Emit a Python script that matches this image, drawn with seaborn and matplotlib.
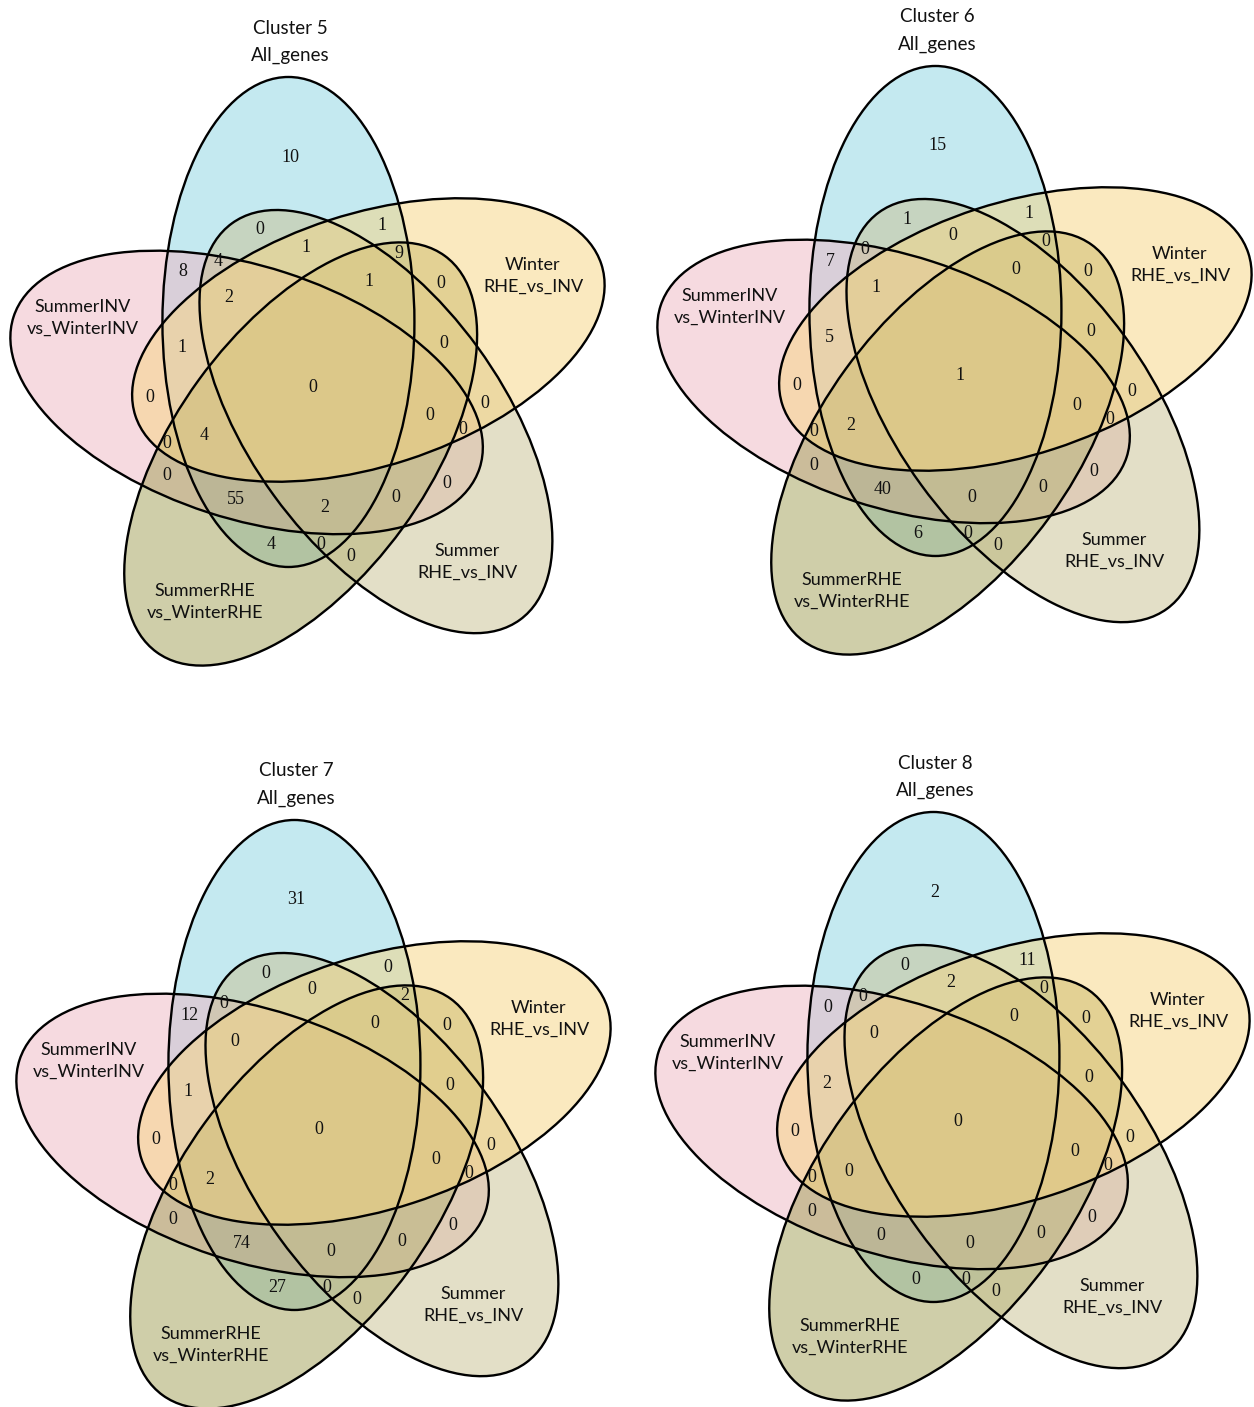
import numpy as np
import pandas as pd
import matplotlib
matplotlib.use("Agg")
import matplotlib.pyplot as plt
from matplotlib.patches import Ellipse
import seaborn as sns

# ---- data -------------------------------------------------------------
clusters = ["Cluster 5", "Cluster 6", "Cluster 7", "Cluster 8"]

# set keys: G = All_genes, W = Winter RHE_vs_INV, S = Summer RHE_vs_INV,
#           R = SummerRHE vs_WinterRHE, I = SummerINV vs_WinterINV
set_keys = ["G", "W", "S", "R", "I"]
set_labels = {
    "G": "All_genes",
    "W": "Winter\nRHE_vs_INV",
    "S": "Summer\nRHE_vs_INV",
    "R": "SummerRHE\nvs_WinterRHE",
    "I": "SummerINV\nvs_WinterINV",
}

regions = ["G", "GS", "GW", "GI", "GIS", "GWS", "GWR", "GWSR", "GISW", "WR",
           "GIW", "WSR", "IW", "GIWSR", "WS", "WSRI", "GIWR", "WSI", "IWR",
           "IR", "SI", "GIR", "GIRS", "IRS", "GR", "GRS", "RS"]

counts_c5 = [10, 0, 1, 8, 4, 1, 9, 1, 2, 0, 1, 0, 0, 0, 0, 0, 4, 0, 0, 0, 0, 55, 2, 0, 4, 0, 0]
counts_c6 = [15, 1, 1, 7, 0, 0, 0, 0, 1, 0, 5, 0, 0, 1, 0, 0, 2, 0, 0, 0, 0, 40, 0, 0, 6, 0, 0]
counts_c7 = [31, 0, 0, 12, 0, 0, 2, 0, 0, 0, 1, 0, 0, 0, 0, 0, 2, 0, 0, 0, 0, 74, 0, 0, 27, 0, 0]
counts_c8 = [2, 0, 11, 0, 0, 2, 0, 0, 0, 0, 2, 0, 0, 0, 0, 0, 0, 0, 0, 0, 0, 0, 0, 0, 0, 0, 0]

# ---- layout (panel pixel units, y down) ---------------------------------
W_PX, H_PX = 1254, 1407
PANEL_W, PANEL_H = 627, 690
panel_offsets = [(0, 0), (647, -11), (6, 743), (645, 735)]

CENTER = (316.0, 386.0)
DIST = 69.7
SEMI_MAJOR, SEMI_MINOR = 245.0, 126.0
order_cw = ["G", "W", "S", "R", "I"]        # clockwise from the top
draw_order = ["G", "I", "R", "S", "W"]
fills = dict(zip(draw_order, sns.color_palette(
    ["#8BD5E3", "#EFB7C3", "#A19F55", "#C9C191", "#F7D581"])))

region_pos = {
    "G": (290, 157), "GS": (260, 230), "GW": (382, 225), "GI": (183, 272),
    "GIS": (218, 261), "GWS": (306, 247), "GWR": (399, 253), "GWSR": (369, 281),
    "GISW": (229, 298), "WR": (441, 283), "GIW": (182, 348), "WSR": (444, 343),
    "IW": (150, 397), "GIWSR": (313, 387), "WS": (485, 403), "WSRI": (430, 416),
    "GIWR": (204, 436), "WSI": (463, 430), "IWR": (167, 443), "IR": (167, 476),
    "SI": (447, 483), "GIR": (236, 500), "GIRS": (325, 508), "IRS": (396, 498),
    "GR": (271, 545), "GRS": (321, 545), "RS": (351, 557),
}
cat_pos = {"I": (83, 318), "W": (533, 276), "S": (467, 562), "R": (205, 602)}

sns.set_theme(style="white")
plt.rcParams["font.family"] = ["Lato", "DejaVu Sans"]

df = pd.DataFrame({"region": regions, "Cluster 5": counts_c5, "Cluster 6": counts_c6,
                   "Cluster 7": counts_c7, "Cluster 8": counts_c8})


def ellipse_geom(key):
    k = order_cw.index(key)
    ca = np.deg2rad(113.3 - 72 * k)
    cx = CENTER[0] + DIST * np.cos(ca)
    cy = CENTER[1] - DIST * np.sin(ca)
    angle = 90 - 72 * k
    return (cx, cy), angle


fig = plt.figure(figsize=(W_PX / 100, H_PX / 100), dpi=100)

for name, (ox, oy) in zip(clusters, panel_offsets):
    ax = fig.add_axes([ox / W_PX, 1 - (oy + PANEL_H) / H_PX, PANEL_W / W_PX, PANEL_H / H_PX])
    ax.set_xlim(0, PANEL_W)
    ax.set_ylim(PANEL_H, 0)
    ax.axis("off")

    for key in draw_order:
        xy, angle = ellipse_geom(key)
        ax.add_patch(Ellipse(xy, 2 * SEMI_MAJOR, 2 * SEMI_MINOR, angle=-angle,
                             facecolor=fills[key], edgecolor="none", alpha=0.5))
    for key in draw_order:
        xy, angle = ellipse_geom(key)
        ax.add_patch(Ellipse(xy, 2 * SEMI_MAJOR, 2 * SEMI_MINOR, angle=-angle,
                             facecolor="none", edgecolor="black", lw=1.7))

    for reg, val in zip(df["region"], df[name]):
        x, y = region_pos[reg]
        ax.text(x, y, str(val), ha="center", va="center", fontsize=13,
                family=["Liberation Serif", "DejaVu Serif"], color="#111111")

    ax.text(290, 28, name, ha="center", va="center", fontsize=13.5, color="#111111")
    ax.text(290, 55, set_labels["G"], ha="center", va="center", fontsize=13.5,
            color="#111111")
    for key, (x, y) in cat_pos.items():
        ax.text(x, y, set_labels[key], ha="center", va="center", fontsize=13,
                linespacing=1.45, color="#111111")

fig.savefig("out.png", dpi=100, facecolor="white")
